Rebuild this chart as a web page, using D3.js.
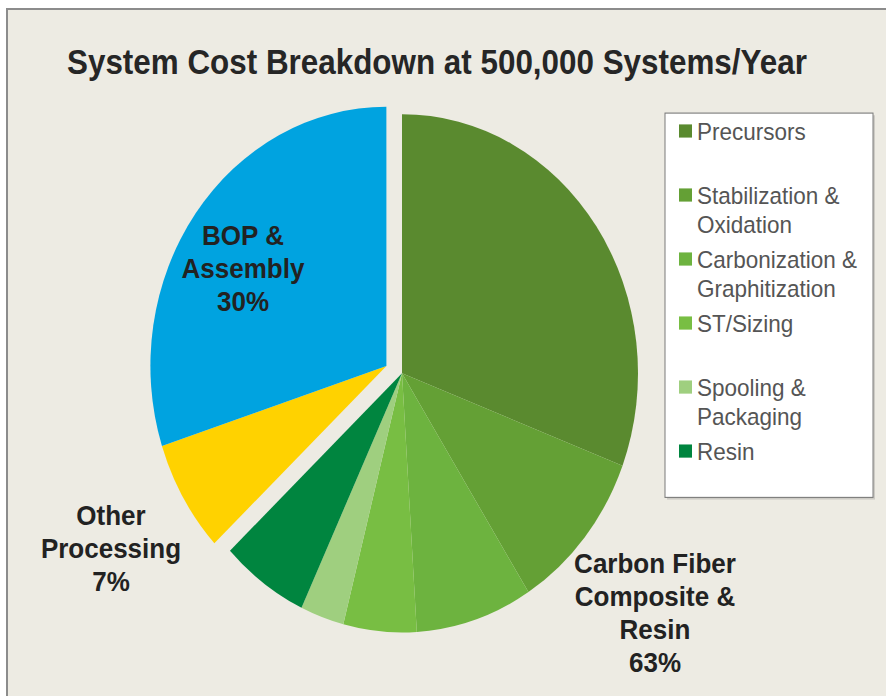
<!DOCTYPE html>
<html>
<head>
<meta charset="utf-8">
<script src="https://cdn.jsdelivr.net/npm/d3@7"></script>
<style>
  body { margin: 0; background: #fff; }
  text { font-family: "Liberation Sans", Arial, sans-serif; }
</style>
</head>
<body>
<div class="chart"></div>
<script>
var svgWidth = 886;
var svgHeight = 696;
// the original picture is stretched a little in height
var stretch = 1.098;

// Data
var categories = ["Precursors", "Stabilization & Oxidation", "Carbonization & Graphitization",
  "ST/Sizing", "Spooling & Packaging", "Resin", "Other Processing", "BOP & Assembly"];
var values = [30.8, 10.2, 8.0, 5.0, 3.0, 6.0, 7.0, 30.0];
var groups = ["cf", "cf", "cf", "cf", "cf", "cf", "other", "bop"];
var colors = ["#5a8a2f", "#64a035", "#6db33f", "#78be43", "#9fcf7f", "#00853f", "#ffd200", "#00a3e0"];

// legend shows only the carbon fiber pieces, wrapped as in the original
var legendLines = [["Precursors"], ["Stabilization &", "Oxidation"], ["Carbonization &", "Graphitization"],
  ["ST/Sizing"], ["Spooling &", "Packaging"], ["Resin"]];

// group labels on the pie
var groupLabels = [
  { lines: ["BOP &", "Assembly", "30%"], x: 243, y: 223 },
  { lines: ["Other", "Processing", "7%"], x: 111, y: 478 },
  { lines: ["Carbon Fiber", "Composite &", "Resin", "63%"], x: 655, y: 522 }
];

var svg = d3.select(".chart")
  .append("svg")
  .attr("width", svgWidth)
  .attr("height", svgHeight);

// panel background and frame
svg.append("rect")
  .attr("x", 7)
  .attr("y", 9)
  .attr("width", svgWidth + 20)
  .attr("height", svgHeight + 20)
  .attr("fill", "#edebe3")
  .attr("stroke", "#8c8c8c")
  .attr("stroke-width", 2);

var g = svg.append("g")
  .attr("transform", `scale(1, ${stretch})`);

// Title
g.append("text")
  .attr("x", 67)
  .attr("y", 67.4)
  .attr("font-size", "31.4px")
  .attr("font-weight", "bold")
  .attr("fill", "#262626")
  .text("System Cost Breakdown at 500,000 Systems/Year");

// Pie
var cx = 402, cy = 340, radius = 236, explode = 17;

var pieData = d3.pie().sort(null).value(d => d)(values);
var arc = d3.arc().innerRadius(0).outerRadius(radius);

// the non carbon fiber pieces are pulled out together along their common bisector
var outside = pieData.filter((d, i) => groups[i] !== "cf");
var midAngle = (outside[0].startAngle + outside[outside.length - 1].endAngle) / 2;
var offX = Math.sin(midAngle) * explode;
var offY = -Math.cos(midAngle) * explode;

g.selectAll(".slice")
  .data(pieData)
  .enter()
  .append("path")
  .attr("class", "slice")
  .attr("d", arc)
  .attr("fill", (d, i) => colors[i])
  .attr("transform", (d, i) => groups[i] === "cf"
    ? `translate(${cx}, ${cy})`
    : `translate(${cx + offX}, ${cy + offY})`);

// Group labels
groupLabels.forEach(function (lab) {
  var t = g.append("text")
    .attr("text-anchor", "middle")
    .attr("font-size", "26px")
    .attr("font-weight", "bold")
    .attr("fill", "#222");
  lab.lines.forEach(function (line, j) {
    t.append("tspan")
      .attr("x", lab.x)
      .attr("y", lab.y + j * 30)
      .text(line);
  });
});

// Legend
var legendTop = 103, legendLeft = 665, legendW = 208, legendH = 350;

g.append("rect")
  .attr("x", legendLeft + 2)
  .attr("y", legendTop + 2)
  .attr("width", legendW)
  .attr("height", legendH)
  .attr("fill", "#b8b6b0")
  .attr("opacity", 0.6);

g.append("rect")
  .attr("x", legendLeft)
  .attr("y", legendTop)
  .attr("width", legendW)
  .attr("height", legendH)
  .attr("fill", "#fff")
  .attr("stroke", "#7a7a7a")
  .attr("stroke-width", 1);

var legendItems = g.selectAll(".legend-item")
  .data(legendLines)
  .enter()
  .append("g")
  .attr("class", "legend-item")
  .attr("transform", (d, i) => `translate(${legendLeft}, ${119.3 + i * 58.3})`);

legendItems.append("rect")
  .attr("x", 14)
  .attr("y", -6)
  .attr("width", 13)
  .attr("height", 12)
  .attr("fill", (d, i) => colors[i]);

legendItems.append("text")
  .attr("font-size", "22.5px")
  .attr("fill", "#555")
  .each(function (d) {
    var t = d3.select(this);
    d.forEach(function (line, j) {
      t.append("tspan")
        .attr("x", 32)
        .attr("y", 8 + j * 27)
        .text(line);
    });
  });
</script>
</body>
</html>
